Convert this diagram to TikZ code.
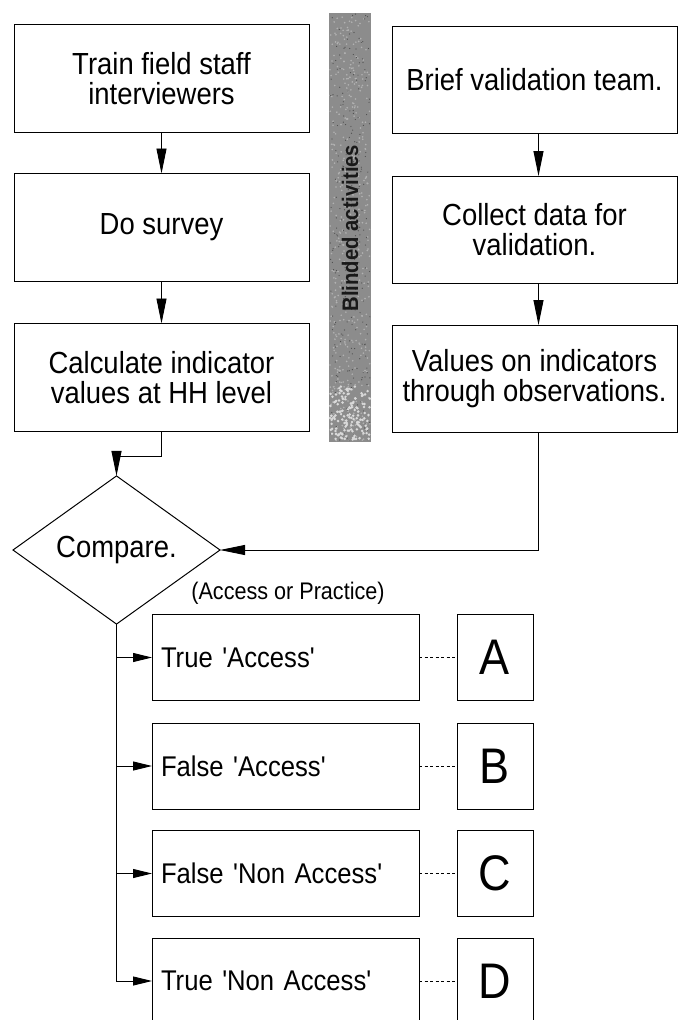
\documentclass[tikz,border=0pt]{standalone}
\usepackage{fontspec}
\setmainfont{Liberation Sans}[Ligatures=TeXOff, FakeStretch=0.9]
\usetikzlibrary{shapes.geometric,arrows.meta,calc}
\begin{document}
\begin{tikzpicture}[x=1pt,y=-1pt,
  every node/.style={inner sep=0pt, outer sep=0pt},
  topbox/.style={draw, line width=1pt, align=center, font=\fontsize{30.5}{29.5}\selectfont},
  lbox/.style={topbox, minimum width=295pt, minimum height=108pt},
  rbox/.style={topbox, minimum width=285pt, minimum height=107pt},
  outbox/.style={draw, line width=1pt, minimum width=267pt, minimum height=86pt, text width=249pt, align=left, font=\fontsize{28.5}{30}\selectfont},
  letbox/.style={draw, line width=1pt, minimum width=76pt, minimum height=86pt, font=\fontsize{50}{52}\selectfont},
  arr/.style={line width=0.9pt, -{Triangle[length=25pt,width=10pt]}},
  harr/.style={line width=0.9pt, -{Triangle[length=19pt,width=9pt]}},
  dots/.style={line width=0.8pt, dash pattern=on 3pt off 2.5pt},
  barstyle/.style={fill=black!45, minimum width=429pt, minimum height=42pt, rotate=90}
]
\useasboundingbox (0,0) rectangle (678,1020);
\fill[white] (0,0) rectangle (678,1020);
\clip (0,0) rectangle (678,1020);

% blinded bar
\node[barstyle] (barbg) at (350,227.5) {};
\pgfmathsetseed{7}
\foreach \i in {1,...,450}{
  \pgfmathsetmacro{\px}{330+40*rnd}
  \pgfmathsetmacro{\py}{14+427*rnd}
  \fill[white!70!black] (\px,\py) circle[radius=0.9pt];
}
\foreach \i in {1,...,250}{
  \pgfmathsetmacro{\px}{330+40*rnd}
  \pgfmathsetmacro{\py}{14+427*rnd}
  \fill[black!70] (\px,\py) circle[radius=0.6pt];
}
\foreach \i in {1,...,140}{
  \pgfmathsetmacro{\px}{330+40*rnd}
  \pgfmathsetmacro{\py}{385+55*rnd}
  \fill[white!85!black] (\px,\py) circle[radius=1.4pt];
}
\node[rotate=90, font=\bfseries\fontsize{22.5}{24}\selectfont, text=black!90] (bar) at (350,228) {Blinded activities};

% left column
\node[lbox] (l1) at (161.5,78.5) {Train field staff\\interviewers};
\node[lbox] (l2) at (161.5,227.5) {Do survey};
\node[lbox] (l3) at (161.5,377.5) {Calculate indicator\\values at HH level};
% right column
\node[rbox] (r1) at (534.5,79.5) {Brief validation team.};
\node[rbox] (r2) at (534.5,229.5) {Collect data for\\validation.};
\node[rbox] (r3) at (534.5,378.5) {Values on indicators\\through observations.};

% diamond
\node[draw, diamond, line width=1pt, minimum width=207pt, minimum height=126pt, font=\fontsize{30.5}{32}\selectfont] (cmp) at (116.5,550) {Compare.};
\node[font=\fontsize{24}{26}\selectfont] (ap) at (288,593) {(Access or Practice)};

% outcome boxes
\node[outbox] (o1) at (285.5,657.5) {True 'Access'};
\node[outbox] (o2) at (285.5,766) {False 'Access'};
\node[outbox] (o3) at (285.5,873.5) {False 'Non Access'};
\node[outbox] (o4) at (285.5,981) {True 'Non Access'};
\node[letbox] (la) at (495,657.5) {A};
\node[letbox] (lb) at (495,766) {B};
\node[letbox] (lc) at (495,873.5) {C};
\node[letbox] (ld) at (495,981) {D};

% connectors
\draw[arr] (l1) -- (l2);
\draw[arr] (l2) -- (l3);
\draw[arr] ($(r1.south)+(4,0)$) -- ($(r2.north)+(4,0)$);
\draw[arr] ($(r2.south)+(4,0)$) -- ($(r3.north)+(4,0)$);
\draw[arr] (l3.south) -- ++(0,25) -| (cmp.north);
\draw[arr] ($(r3.south)+(4,0)$) |- (cmp.east);
\draw[harr] (cmp.south) |- (o1.west);
\draw[harr] (cmp.south) |- (o2.west);
\draw[harr] (cmp.south) |- (o3.west);
\draw[harr] (cmp.south) |- (o4.west);
\draw[dots] (o1.east) -- (la.west);
\draw[dots] (o2.east) -- (lb.west);
\draw[dots] (o3.east) -- (lc.west);
\draw[dots] (o4.east) -- (ld.west);
\end{tikzpicture}
\end{document}
